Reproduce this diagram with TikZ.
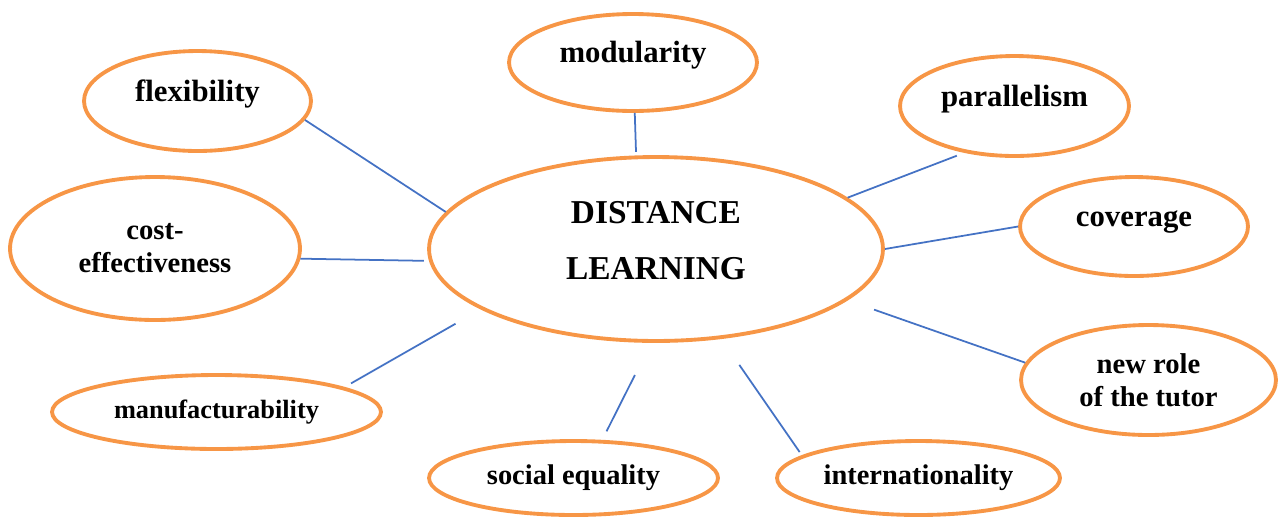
\documentclass[tikz,border=0pt]{standalone}
\usepackage{fontspec}
\setmainfont{Liberation Serif}
\usetikzlibrary{shapes}

\definecolor{bubble}{RGB}{247,150,70}
\definecolor{spoke}{RGB}{68,114,196}

\begin{document}
\begin{tikzpicture}[x=0.02cm, y=-0.02cm,
    topic/.style={draw=bubble, line width=2.2pt, ellipse, inner sep=0pt, align=center,
        font=\bfseries\fontsize{17.5}{21}\selectfont},
    raised/.style={text height=12pt, text depth=12pt},
    twoline/.style={font=\bfseries\fontsize{16.3}{18.8}\selectfont},
    link/.style={draw=spoke, line width=1pt}]

    \useasboundingbox (0,0) rectangle (1281,522);

    % Central idea
    \node[topic, minimum width=9.08cm, minimum height=3.68cm, text depth=10pt,
        font=\bfseries\fontsize{19}{32}\selectfont] (dl) at (656,249) {DISTANCE\\LEARNING};

    % Surrounding features
    \node[topic, raised, minimum width=4.54cm, minimum height=2.0cm] (flex) at (197.5,101) {flexibility};
    \node[topic, raised, minimum width=4.96cm, minimum height=1.94cm] (mod) at (633,62.5) {modularity};
    \node[topic, raised, minimum width=4.58cm, minimum height=2.0cm] (par) at (1014.5,106) {parallelism};
    \node[topic, raised, minimum width=4.56cm, minimum height=1.98cm] (cov) at (1134,226.5) {coverage};
    \node[topic, twoline, minimum width=5.8cm, minimum height=2.86cm] (cost) at (155,248.5) {cost-\\effectiveness};
    \node[topic, twoline, minimum width=5.1cm, minimum height=2.2cm] (nr) at (1148.5,380) {new role\\of the tutor};
    \node[topic, minimum width=6.58cm, minimum height=1.48cm,
        font=\bfseries\fontsize{15}{18}\selectfont] (man) at (216.5,412) {manufacturability};
    \node[topic, minimum width=5.78cm, minimum height=1.48cm,
        font=\bfseries\fontsize{16.2}{19}\selectfont] (soc) at (573.5,478) {social equality};
    \node[topic, minimum width=5.66cm, minimum height=1.48cm,
        font=\bfseries\fontsize{16.2}{19}\selectfont] (intl) at (918.5,478) {internationality};

    % Spokes
    \draw[link] (flex.-10) -- (dl.170);
    \draw[link, shorten >=0.07cm] (mod.-88) -- (dl.102);
    \draw[link, shorten <=0.16cm] (par.223) -- (dl.15);
    \draw[link, shorten >=0.1cm] (cost.-4) -- (dl.183);
    \draw[link] (cov.west) -- (dl.east);
    \draw[link, shorten <=0.15cm, shorten >=0.58cm] (man.11) -- (dl.199);
    \draw[link, shorten <=0.56cm] (dl.-15) -- (nr.172);
    \draw[link, shorten <=0.19cm, shorten >=0.72cm] (soc.53) -- (dl.267);
    \draw[link, shorten <=0.08cm, shorten >=0.63cm] (intl.169) -- (dl.-54);

\end{tikzpicture}
\end{document}
